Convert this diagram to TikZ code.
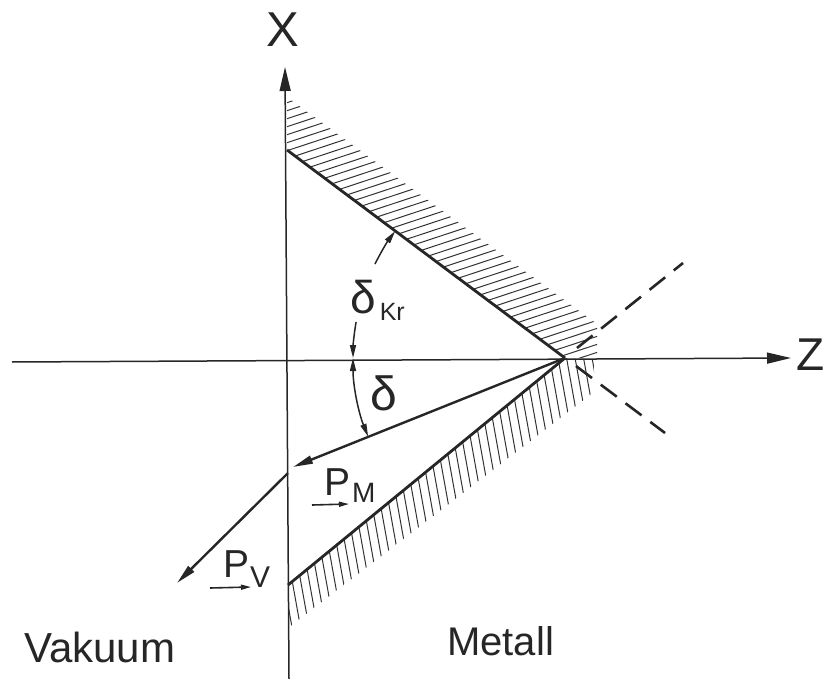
\documentclass[tikz,border=0pt]{standalone}
\usepackage{fontspec}
\setmainfont{Liberation Sans}
\usetikzlibrary{arrows.meta,calc}
\begin{document}
\begin{tikzpicture}[x=1pt,y=-1pt,
  axisline/.style={line width=1.5pt, draw=black!85, -{Triangle[length=24pt,width=11pt]}},
  bound/.style={line width=2.8pt, draw=black!85},
  ray/.style={line width=2.4pt, draw=black!85, -{Triangle[length=20pt,width=8pt]}},
  hatch/.style={line width=1pt, draw=black!80},
  dashline/.style={line width=2.6pt, draw=black!85, dash pattern=on 20pt off 11pt},
  anglearc/.style={line width=1.5pt, draw=black!85, -{Triangle[length=13pt,width=6pt]}},
  vecarrow/.style={line width=1.6pt, draw=black!85, -{Triangle[length=10pt,width=5pt]}},
  lbl/.style={inner sep=0pt, text=black!85}]
\useasboundingbox (0,0) rectangle (824,679);

% key points
\coordinate (A) at (565,358);
\coordinate (U) at (287,150);
\coordinate (L) at (288,585);
\coordinate (R) at (288,473);
\coordinate (PMtip) at (293,467);
\coordinate (PVtip) at (177,583);
\coordinate (xbot) at (289,679);
\coordinate (xtop) at (285,67);
\coordinate (zleft) at (12,362);
\coordinate (zright) at (791,358);

% hatching above upper boundary
\begin{scope}
  \clip (287,97) -- (U) -- (A) -- (597,358) -- (597,324) -- cycle;
  \foreach \y in {97,105,...,470}
    \draw[hatch] (280,\y) -- (640,\y-118.8);
\end{scope}

% hatching below lower boundary
\begin{scope}
  \clip (L) -- (A) -- (594,360) -- (594,392) -- (288,628) -- cycle;
  \foreach \x in {230,238.5,...,620}
    \draw[hatch] (\x,330) -- (\x+54,630);
\end{scope}

% axes
\draw[axisline] (xbot) -- (xtop);
\draw[axisline] (zleft) -- (zright);
\node[lbl, font=\fontsize{49}{49}\selectfont] (xlab) at (283,30) {X};
\node[lbl, font=\fontsize{46}{46}\selectfont, anchor=west] (zlab) at (796,355) {Z};

% boundaries
\draw[bound] (U) -- (A);
\draw[bound] (L) -- (A);

% dashed extensions
\coordinate (d1s) at (577,348);
\coordinate (d1e) at (683,263);
\coordinate (d2s) at (576,366);
\coordinate (d2e) at (665,433);
\draw[dashline] (d1s) -- (d1e);
\draw[dashline] (d2s) -- (d2e);

% rays
\draw[ray] (A) -- (PMtip);
\draw[ray] (R) -- (PVtip);

% angle arcs
\draw[anglearc] ($(A)+(189.8:212)$) arc[start angle=189.8, end angle=180, radius=212];
\draw[anglearc] ($(A)+(206.3:212)$) arc[start angle=206.3, end angle=216.8, radius=212];
\draw[anglearc, {Triangle[length=13pt,width=6pt]}-{Triangle[length=13pt,width=6pt]}] ($(A)+(180:212)$) arc[start angle=180, end angle=158.2, radius=212];

% labels
\node[lbl, anchor=base west] (dkr) at (350,313)
  {\fontsize{46}{46}\selectfont δ\hspace{4pt}\raisebox{-7pt}{\fontsize{25}{25}\selectfont Kr}};
\node[lbl, anchor=base west, font=\fontsize{48}{48}\selectfont] (dl) at (370,410) {δ};

\node[lbl, anchor=base west] (pm) at (324,495)
  {\fontsize{39}{39}\selectfont P\hspace{2pt}\raisebox{-7pt}{\fontsize{28}{28}\selectfont M}};
\coordinate (pma) at (312,505);
\coordinate (pmb) at (349,504);
\draw[vecarrow] (pma) -- (pmb);

\node[lbl, anchor=base west] (pv) at (223,577)
  {\fontsize{39}{39}\selectfont P\hspace{1pt}\raisebox{-10pt}{\fontsize{30}{30}\selectfont V}};
\coordinate (pva) at (210,588);
\coordinate (pvb) at (251,587);
\draw[vecarrow] (pva) -- (pvb);

\node[lbl, anchor=base west, font=\fontsize{42}{42}\selectfont] (vak) at (24,662) {Vakuum};
\node[lbl, anchor=base west, font=\fontsize{40}{40}\selectfont] (met) at (447,655) {Metall};
\end{tikzpicture}
\end{document}
